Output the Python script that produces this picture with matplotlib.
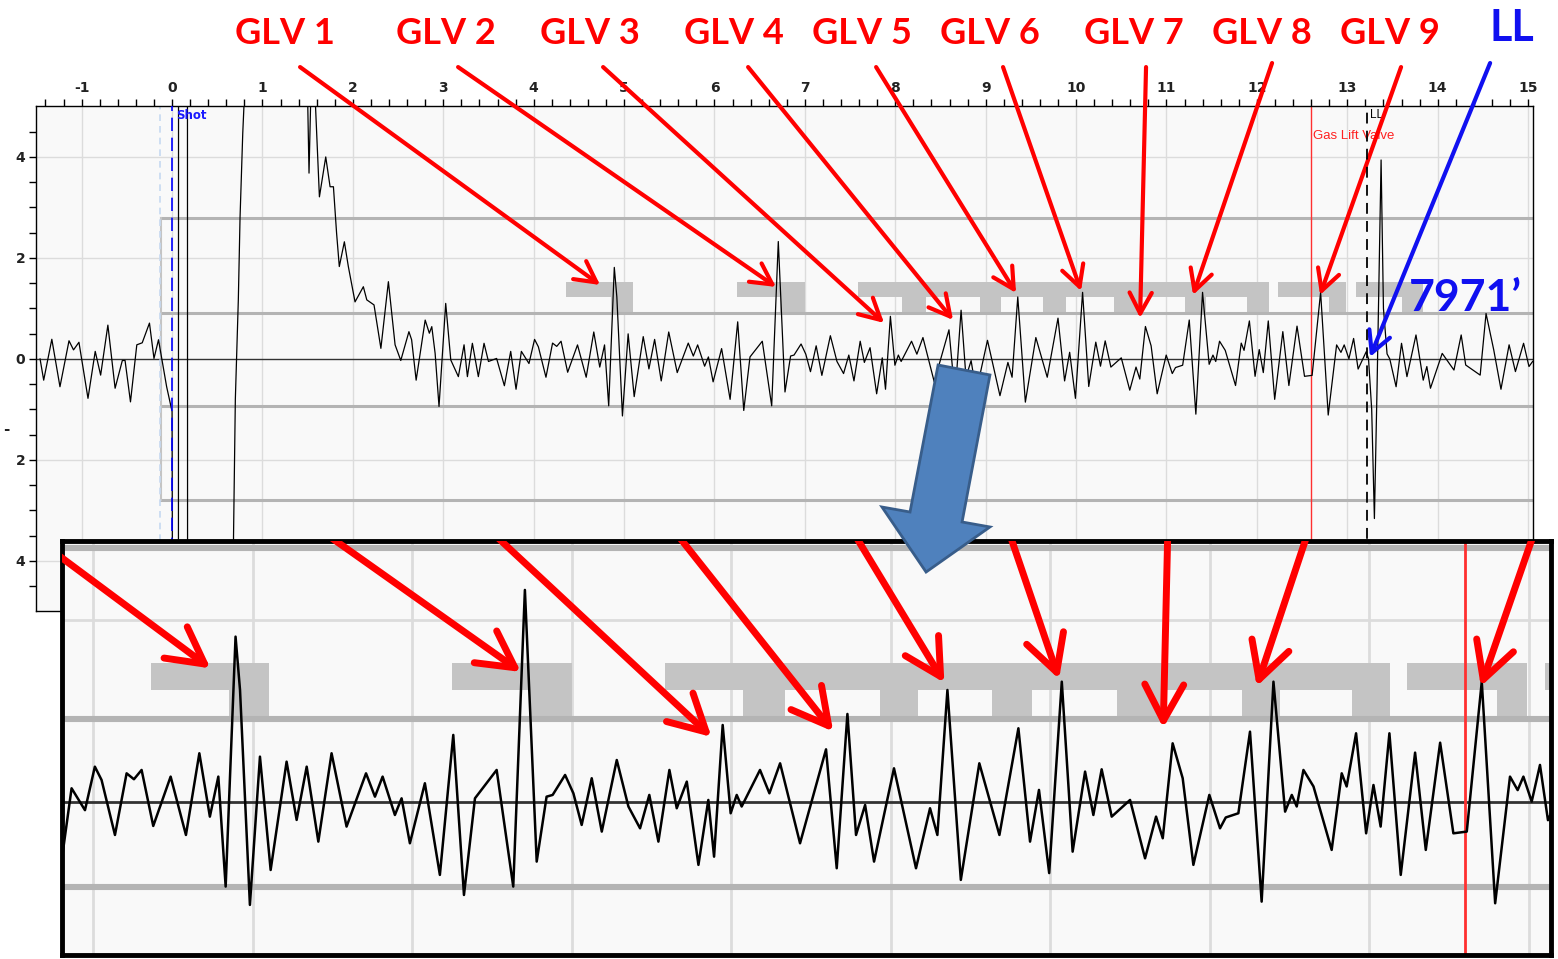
import numpy as np
import matplotlib.pyplot as plt
from matplotlib.patches import Rectangle, Polygon, FancyArrowPatch

plt.rcParams['axes.unicode_minus'] = False

# acoustic trace (x = time axis, y = amplitude)
trace_x = [-1.46, -1.42, -1.33, -1.24, -1.14, -1.09, -1.03, -0.93, -0.85, -0.79,
           -0.71, -0.63, -0.55, -0.52, -0.46, -0.39, -0.33, -0.25, -0.20, -0.15,
           -0.06, 0.00, 0.01, 0.07, 0.072, 0.17, 0.172, 0.66, 0.68, 0.70,
           0.733, 0.752, 0.782, 0.80, 0.82, 1.46, 1.515, 1.545, 1.563, 1.63,
           1.70, 1.748, 1.785, 1.82, 1.85, 1.906, 1.95, 2.024, 2.116, 2.154,
           2.234, 2.31, 2.393, 2.467, 2.53, 2.62, 2.65, 2.70, 2.80, 2.846,
           2.873, 2.91, 2.953, 3.027, 3.083, 3.167, 3.23, 3.267, 3.322, 3.388,
           3.451, 3.50, 3.59, 3.62, 3.676, 3.746, 3.805, 3.864, 3.948, 4.010,
           4.052, 4.136, 4.209, 4.255, 4.303, 4.376, 4.485, 4.581, 4.665, 4.731,
           4.784, 4.830, 4.892, 4.920, 4.982, 5.045, 5.112, 5.212, 5.275, 5.338,
           5.411, 5.494, 5.588, 5.710, 5.766, 5.814, 5.891, 5.933, 5.985, 6.079,
           6.173, 6.257, 6.324, 6.393, 6.529, 6.633, 6.706, 6.780, 6.842, 6.88,
           6.958, 7.01, 7.062, 7.125, 7.188, 7.282, 7.355, 7.428, 7.486, 7.543,
           7.612, 7.658, 7.721, 7.794, 7.856, 7.892, 7.946, 7.996, 8.034, 8.065,
           8.18, 8.239, 8.306, 8.431, 8.594, 8.661, 8.728, 8.782, 8.839, 8.895,
           9.02, 9.158, 9.246, 9.292, 9.355, 9.439, 9.555, 9.681, 9.80, 9.873,
           9.929, 9.993, 10.072, 10.14, 10.218, 10.27, 10.322, 10.385, 10.50, 10.594,
           10.663, 10.705, 10.767, 10.83, 10.897, 10.997, 11.064, 11.10, 11.179, 11.252,
           11.325, 11.399, 11.472, 11.514, 11.545, 11.587, 11.65, 11.764, 11.827, 11.858,
           11.917, 11.98, 12.026, 12.071, 12.126, 12.197, 12.287, 12.354, 12.444, 12.527,
           12.611, 12.705, 12.789, 12.882, 12.93, 12.966, 13.018, 13.07, 13.12, 13.21,
           13.235, 13.27, 13.30, 13.33, 13.374, 13.40, 13.44, 13.47, 13.54, 13.60,
           13.66, 13.76, 13.84, 13.88, 13.92, 14.05, 14.18, 14.26, 14.31, 14.47,
           14.535, 14.62, 14.70, 14.79, 14.86, 14.95, 15.01, 15.05]
trace_y = [0.0, -0.42, 0.39, -0.55, 0.36, 0.18, 0.33, -0.78, 0.15, -0.32,
           0.67, -0.58, -0.03, -0.03, -0.85, 0.28, 0.32, 0.71, 0.01, 0.38,
           -0.55, -1.04, -9.0, -9.0, 9.0, 9.0, -9.0, -9.0, -3.5, -0.8,
           1.17, 2.8, 4.47, 5.2, 9.0, 9.0, 3.68, 6.0, 6.0, 3.21,
           4.0, 3.41, 3.41, 2.49, 1.83, 2.32, 1.83, 1.13, 1.43, 1.17,
           1.07, 0.21, 1.53, 0.28, -0.03, 0.54, 0.38, -0.42, 0.77, 0.51,
           0.64, 0.11, -0.94, 1.10, -0.02, -0.35, 0.28, -0.35, 0.31, -0.35,
           0.31, -0.05, 0.01, -0.18, -0.53, 0.15, -0.60, 0.15, -0.09, 0.387,
           0.241, -0.362, 0.314, 0.249, 0.351, -0.263, 0.278, -0.362, 0.534, -0.161,
           0.278, -0.928, 1.813, 1.228, -1.129, 0.497, -0.746, 0.442, -0.197, 0.387,
           -0.435, 0.534, -0.27, 0.314, 0.058, 0.278, -0.143, 0.04, -0.453, 0.205,
           -0.80, 0.735, -1.02, 0.04, 0.351, -0.928, 2.325, -0.654, 0.058, 0.077,
           0.296, 0.095, -0.252, 0.26, -0.325, 0.46, -0.05, -0.289, 0.077, -0.435,
           0.351, -0.069, 0.223, -0.69, 0.022, -0.60, 0.844, -0.124, 0.077, -0.05,
           0.351, 0.095, 0.424, -0.453, 0.577, -0.727, 0.965, -0.362, -0.033, -0.654,
           0.369, -0.727, -0.069, -0.362, 1.228, -0.855, 0.424, -0.362, 0.808, -0.435,
           0.132, -0.78, 1.319, -0.545, 0.333, -0.143, 0.358, -0.161, 0.022, -0.618,
           -0.161, -0.398, 0.643, 0.26, -0.69, 0.077, -0.289, -0.17, -0.124, 0.771,
           -1.093, 1.319, -0.106, 0.077, -0.05, 0.351, 0.17, -0.526, 0.314, 0.17,
           0.753, -0.344, 0.186, -0.27, 0.753, -0.80, 0.541, -0.526, 0.65, -0.344,
           -0.325, 1.319, -1.111, 0.278, 0.13, 0.278, 0.004, 0.406, -0.20, 0.145,
           0.0, -1.0, -3.16, -0.5, 3.94, 1.0, 0.1, 0.0, -0.55, 0.31,
           -0.35, 0.475, -0.42, -0.15, -0.58, 0.11, -0.22, 0.475, -0.12, -0.32,
           0.90, 0.18, -0.60, 0.28, -0.25, 0.31, -0.15, -0.05]

# GLV callouts: label position, arrow tail and arrow tip (data units of the main plot)
glv_names = ['GLV 1', 'GLV 2', 'GLV 3', 'GLV 4', 'GLV 5', 'GLV 6', 'GLV 7', 'GLV 8', 'GLV 9']
glv_text_x = [1.25, 3.03, 4.62, 6.22, 7.63, 9.05, 10.64, 12.06, 13.47]
glv_tail_x = [1.416, 3.164, 4.768, 6.372, 7.788, 9.192, 10.774, 12.168, 13.595]
glv_tail_y = [5.78, 5.78, 5.78, 5.78, 5.78, 5.78, 5.78, 5.86, 5.78]
glv_tip_x = [4.735, 6.681, 7.876, 8.639, 9.336, 10.055, 10.708, 11.294, 12.699]
glv_tip_y = [1.465, 1.426, 0.713, 0.772, 1.307, 1.347, 0.812, 1.267, 1.267]

ll_tail = (14.58, 5.86)
ll_tip = (13.252, 0.04)

# grey threshold lines and window blocks
level_y = [2.79, 0.91, -0.93, -2.79]
band_top = [(4.36, 5.10), (6.25, 7.00), (7.585, 12.13), (12.234, 12.99), (13.10, 13.84)]
band_low = [(4.85, 5.10), (6.73, 7.00), (8.076, 8.337), (8.933, 9.173), (9.633, 9.884),
            (10.416, 10.70), (11.20, 11.44), (11.89, 12.13), (12.80, 12.99), (13.60, 13.84)]

shot_x = 0.0
gas_lift_x = 12.6
ll_x = 13.22

RED = '#ff0000'
BLUE = '#1010f0'


def draw_panel(ax, s):
    ax.set_facecolor('#f9f9f9')
    for gx in range(-1, 16):
        ax.axvline(gx, color='#dcdcdc', lw=1.0 * s, zorder=0)
    for gy in (-4, -2, 2, 4):
        ax.axhline(gy, color='#dcdcdc', lw=1.0 * s, zorder=0)
    for x0, x1 in band_top:
        ax.add_patch(Rectangle((x0, 1.23), x1 - x0, 0.29, color='#c4c4c4', lw=0, zorder=1))
    for x0, x1 in band_low:
        ax.add_patch(Rectangle((x0, 0.91), x1 - x0, 0.32, color='#c4c4c4', lw=0, zorder=1))
    for ly in level_y:
        ax.plot([-0.12, 15.05], [ly, ly], color='#b4b4b4', lw=2.2 * s, zorder=1)
    ax.plot([-0.12, -0.12], [level_y[0], level_y[-1]], color='#c4c4c4', lw=1.5 * s, zorder=1)
    ax.axhline(0, color='#333333', lw=1.0 * s, zorder=2)
    ax.axvline(gas_lift_x, color='#ff3030', lw=1.0 * s, zorder=2)
    ax.plot(trace_x, trace_y, color='black', lw=0.9 * s, zorder=3)


fig = plt.figure(figsize=(15.58, 9.59), dpi=100)

ax = fig.add_axes([0.0234, 0.3624, 0.9603, 0.5266])
draw_panel(ax, 1.0)
ax.set_xlim(-1.5, 15.05)
ax.set_ylim(-5, 5)

# event markers
ax.axvline(-0.13, color='#c6d9f1', lw=1.2, ls=(0, (4, 3)), zorder=2)
ax.axvline(shot_x, color='#0000ff', lw=1.2, ls=(0, (8, 4)), zorder=4)
ax.axvline(ll_x, color='black', lw=1.3, ls=(0, (6, 4)), zorder=4)
ax.text(shot_x + 0.05, 4.83, 'Shot', color='#1a1aff', fontsize=8.5, fontweight='bold',
        va='center', ha='left', family='DejaVu Sans')
ax.text(ll_x + 0.03, 4.83, 'LL', color='black', fontsize=8.5, va='center', ha='left',
        family='Liberation Sans')
ax.text(gas_lift_x + 0.02, 4.42, 'Gas Lift Valve', color='#ff2020', fontsize=9.5,
        va='center', ha='left', family='Liberation Sans')

# ticks and labels
ax.xaxis.tick_top()
ax.set_xticks(range(-1, 16))
ax.set_xticks(np.arange(-1.4, 15.01, 0.2), minor=True)
ax.set_yticks([-4, -2, 0, 2, 4], labels=['4', '2', '0', '2', '4'])
ax.set_yticks(np.arange(-4.5, 5.0, 0.5), minor=True)
ax.tick_params(axis='both', which='both', direction='out', length=5, width=1,
               labelsize=10, pad=3, labelcolor='#222222')
for lab in ax.get_xticklabels() + ax.get_yticklabels():
    lab.set_fontweight('bold')
for sp in ax.spines.values():
    sp.set_linewidth(1.0)

# callouts on the main plot
for name, tx, x0, y0, x1, y1 in zip(glv_names, glv_text_x, glv_tail_x, glv_tail_y,
                                    glv_tip_x, glv_tip_y):
    ax.text(tx, 6.45, name, color=RED, fontsize=26, fontweight='bold', family='Lato',
            ha='center', va='center', clip_on=False)
    ax.annotate('', xy=(x1, y1), xytext=(x0, y0), annotation_clip=False,
                arrowprops=dict(arrowstyle='->,head_length=0.75,head_width=0.4',
                                mutation_scale=20, lw=3, color=RED,
                                shrinkA=0, shrinkB=0))

ax.text(14.82, 6.55, 'LL', color=BLUE, fontsize=31, fontweight='bold', family='Lato',
        ha='center', va='center', clip_on=False)
ax.annotate('', xy=ll_tip, xytext=ll_tail, annotation_clip=False,
            arrowprops=dict(arrowstyle='->,head_length=0.75,head_width=0.4',
                            mutation_scale=20, lw=3, color=BLUE, shrinkA=0, shrinkB=0))
ax.text(14.31, 1.21, '7971\u2019', color=BLUE, fontsize=32, fontweight='bold',
        family='Lato', ha='center', va='center', zorder=6)

ax.text(-1.83, -1.4, '-', fontsize=11, fontweight='bold', color='#222222',
        ha='center', va='center', clip_on=False)

# zoomed inset of the same trace
ax_in = fig.add_axes([0.0398, 0.0042, 0.9557, 0.4317])
draw_panel(ax_in, 2.0)
ax_in.set_xlim(3.804, 13.139)
ax_in.set_ylim(-1.678, 2.862)
ax_in.set_xticks([])
ax_in.set_yticks([])
for sp in ax_in.spines.values():
    sp.set_linewidth(3.5)
    sp.set_color('black')
for x0, y0, x1, y1 in zip(glv_tail_x, glv_tail_y, glv_tip_x, glv_tip_y):
    ax_in.add_patch(FancyArrowPatch((x0, y0), (x1, y1),
                                    arrowstyle='->,head_length=1.3,head_width=0.7',
                                    mutation_scale=20, lw=5, color=RED,
                                    shrinkA=0, shrinkB=0, zorder=5))

# big block arrow pointing from the main plot into the inset
block_arrow = [(0.6021, 0.6194), (0.6354, 0.6090), (0.6175, 0.4557), (0.6354, 0.4505),
               (0.5944, 0.4035), (0.5661, 0.4713), (0.5841, 0.4661)]
fig.patches.append(Polygon(block_arrow, closed=True, transform=fig.transFigure,
                           facecolor='#4f81bd', edgecolor='#385d8a', lw=2, zorder=10))

fig.savefig('out.png', dpi=100, facecolor='white')
plt.close(fig)
